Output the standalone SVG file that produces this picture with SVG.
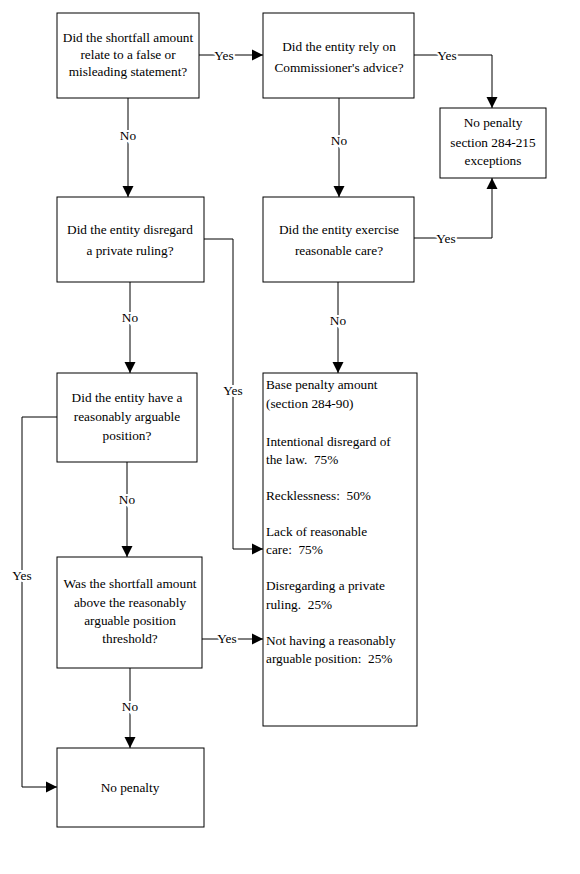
<svg xmlns="http://www.w3.org/2000/svg" width="580" height="874" viewBox="0 0 580 874">
<style>
.box{fill:#fff;stroke:#000;stroke-width:1}
text{font-family:'Liberation Serif','DejaVu Serif',serif;font-size:13.3px;fill:#000;white-space:pre}
.c{text-anchor:middle}
.lbl{text-anchor:middle;paint-order:stroke;stroke:#fff;stroke-width:4px}
.ln{fill:none;stroke:#000;stroke-width:1}
</style>
<defs>
<marker id="ah" markerUnits="userSpaceOnUse" markerWidth="12" markerHeight="12" refX="11" refY="6" orient="auto">
<path d="M0,0.5 L11,6 L0,11.5 z" fill="#000"/>
</marker>
</defs>
<rect width="580" height="874" fill="#fff"/>
<g id="connectors" font-family="Liberation Serif, DejaVu Serif, serif">
<path class="ln" d="M199,55 H263" marker-end="url(#ah)"/>
<path class="ln" d="M414,55 H492 V108" marker-end="url(#ah)"/>
<path class="ln" d="M414,238 H492 V178" marker-end="url(#ah)"/>
<path class="ln" d="M128,98 V197" marker-end="url(#ah)"/>
<path class="ln" d="M339,98 V197" marker-end="url(#ah)"/>
<path class="ln" d="M130,282 V373" marker-end="url(#ah)"/>
<path class="ln" d="M204,239 H233 V549 H263" marker-end="url(#ah)"/>
<path class="ln" d="M338,282 V373" marker-end="url(#ah)"/>
<path class="ln" d="M127,462 V557" marker-end="url(#ah)"/>
<path class="ln" d="M57,417 H22 V787 H57" marker-end="url(#ah)"/>
<path class="ln" d="M202,639 H263" marker-end="url(#ah)"/>
<path class="ln" d="M130,668 V748" marker-end="url(#ah)"/>
<text class="lbl" x="224" y="60">Yes</text>
<text class="lbl" x="447" y="60">Yes</text>
<text class="lbl" x="446" y="243">Yes</text>
<text class="lbl" x="128" y="140">No</text>
<text class="lbl" x="339" y="145">No</text>
<text class="lbl" x="130" y="322">No</text>
<text class="lbl" x="338" y="325">No</text>
<text class="lbl" x="233" y="395">Yes</text>
<text class="lbl" x="127" y="504">No</text>
<text class="lbl" x="22" y="580">Yes</text>
<text class="lbl" x="227" y="643">Yes</text>
<text class="lbl" x="130" y="711">No</text>
</g>
<g id="q-false-statement">
<rect class="box" x="57" y="13" width="142" height="85"/>
<text class="c" x="128" y="42">Did the shortfall amount</text>
<text class="c" x="128" y="59">relate to a false or</text>
<text class="c" x="128" y="76">misleading statement?</text>
</g>
<g id="q-commissioner-advice">
<rect class="box" x="263" y="13" width="151" height="85"/>
<text class="c" x="339" y="51">Did the entity rely on</text>
<text class="c" x="339" y="72">Commissioner's advice?</text>
</g>
<g id="no-penalty-exceptions">
<rect class="box" x="440" y="108" width="106" height="70"/>
<text class="c" x="493" y="127">No penalty</text>
<text class="c" x="493" y="147">section 284-215</text>
<text class="c" x="493" y="165">exceptions</text>
</g>
<g id="q-private-ruling">
<rect class="box" x="57" y="197" width="147" height="85"/>
<text class="c" x="130" y="234">Did the entity disregard</text>
<text class="c" x="130" y="255">a private ruling?</text>
</g>
<g id="q-reasonable-care">
<rect class="box" x="263" y="197" width="151" height="85"/>
<text class="c" x="339" y="234">Did the entity exercise</text>
<text class="c" x="339" y="255">reasonable care?</text>
</g>
<g id="q-arguable-position">
<rect class="box" x="57" y="373" width="140" height="89"/>
<text class="c" x="127" y="402">Did the entity have a</text>
<text class="c" x="127" y="421">reasonably arguable</text>
<text class="c" x="127" y="440">position?</text>
</g>
<g id="base-penalty">
<rect class="box" x="263" y="373" width="154" height="353"/>
<text x="266" y="389">Base penalty amount</text>
<text x="266" y="408">(section 284-90)</text>
<text x="266" y="446">Intentional disregard of</text>
<text x="266" y="464">the law.  75%</text>
<text x="266" y="500">Recklessness:  50%</text>
<text x="266" y="536">Lack of reasonable</text>
<text x="266" y="554">care:  75%</text>
<text x="266" y="590">Disregarding a private</text>
<text x="266" y="609">ruling.  25%</text>
<text x="266" y="645">Not having a reasonably</text>
<text x="266" y="663">arguable position:  25%</text>
</g>
<g id="q-threshold">
<rect class="box" x="57" y="557" width="145" height="111"/>
<text class="c" x="130" y="588">Was the shortfall amount</text>
<text class="c" x="130" y="607">above the reasonably</text>
<text class="c" x="130" y="625">arguable position</text>
<text class="c" x="130" y="643">threshold?</text>
</g>
<g id="no-penalty">
<rect class="box" x="57" y="748" width="147" height="79"/>
<text class="c" x="130" y="792">No penalty</text>
</g>
</svg>
